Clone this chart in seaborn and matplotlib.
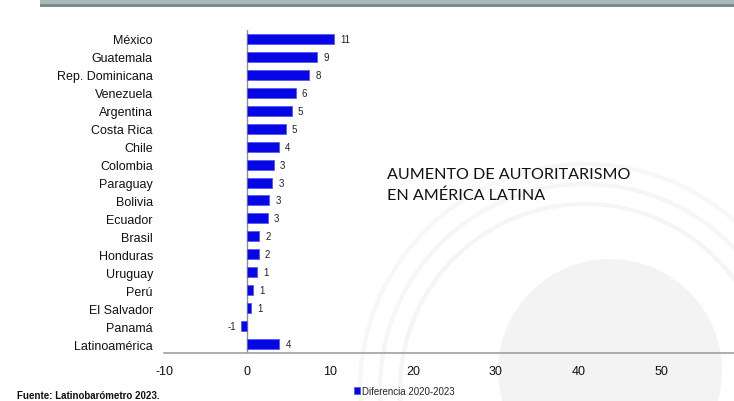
import pandas as pd
import matplotlib.pyplot as plt
import seaborn as sns
from matplotlib.patches import Rectangle, Circle

paises = ['México', 'Guatemala', 'Rep. Dominicana', 'Venezuela', 'Argentina',
          'Costa Rica', 'Chile', 'Colombia', 'Paraguay', 'Bolivia', 'Ecuador',
          'Brasil', 'Honduras', 'Uruguay', 'Perú', 'El Salvador', 'Panamá',
          'Latinoamérica']
diferencia = [10.5, 8.5, 7.5, 5.9, 5.4, 4.7, 3.85, 3.2, 3.05, 2.7, 2.5,
              1.5, 1.45, 1.2, 0.72, 0.5, -0.72, 3.9]
etiquetas = ['11', '9', '8', '6', '5', '5', '4', '3', '3', '3', '3',
             '2', '2', '1', '1', '1', '-1', '4']
x_ticks = [-10, 0, 10, 20, 30, 40, 50]

df = pd.DataFrame({'pais': paises, 'dif': diferencia})

sns.set_style('white')
plt.rcParams['font.family'] = ['Liberation Sans', 'DejaVu Sans']

fig = plt.figure(figsize=(7.34, 4.02), dpi=100)

# faint watermark behind the chart
bg = fig.add_axes([0, 0, 1, 1], zorder=0)
bg.set_xlim(0, 734)
bg.set_ylim(402, 0)
bg.axis('off')
bg.add_patch(Circle((610, 372), 112, color='#f3f3f3', lw=0))
for r, c in [(185, '#f5f5f5'), (205, '#f6f6f6'), (225, '#f7f7f7')]:
    bg.add_patch(Circle((585, 390), r, fill=False, ec=c, lw=3))

ax = fig.add_axes([164 / 734, 1 - 354 / 402, 1 - 164 / 734, (354 - 31) / 402], zorder=1)
ax.patch.set_alpha(0)
sns.barplot(data=df, x='dif', y='pais', orient='h', color='#0606e6',
            width=0.56, edgecolor='#5a5af0', linewidth=0.6, saturation=1,
            label='Diferencia 2020-2023', ax=ax)
if ax.get_legend() is not None:
    ax.get_legend().remove()

for i, (v, t) in enumerate(zip(diferencia, etiquetas)):
    if v >= 0:
        ax.annotate(t, (v, i), xytext=(6, 0), textcoords='offset pixels',
                    ha='left', va='center', fontsize=7, color='#222222')
    else:
        ax.annotate(t, (v, i), xytext=(-5, 0), textcoords='offset pixels',
                    ha='right', va='center', fontsize=7, color='#222222')

ax.set_xlim(-10, 58.7)
ax.set_ylim(17.5, -0.5)
ax.set_xticks(x_ticks)
ax.set_xticklabels([str(t) for t in x_ticks])
ax.set_xlabel('')
ax.set_ylabel('')
ax.tick_params(axis='both', length=0, labelsize=9, colors='#111111')
ax.tick_params(axis='y', pad=8)
ax.tick_params(axis='x', pad=9)
for s in ['top', 'right', 'left']:
    ax.spines[s].set_visible(False)
ax.spines['bottom'].set_color('#a0a0a0')
ax.spines['bottom'].set_linewidth(1.2)
ax.axvline(0, color='#909090', lw=1.0, zorder=0)

ax.text(16.9, 8.12, 'AUMENTO DE AUTORITARISMO\nEN AMÉRICA LATINA',
        family=['Lato', 'DejaVu Sans'], fontsize=11.6, color='#111111',
        ha='left', va='center', linespacing=1.55)

leg = fig.legend(loc='center left', bbox_to_anchor=(354 / 734, 1 - 392 / 402),
                 frameon=False, fontsize=7, handlelength=0.6, handleheight=0.6,
                 handletextpad=0.2, borderaxespad=0, borderpad=0)

fig.text(17 / 734, 1 - 396 / 402, 'Fuente: Latinobarómetro 2023.',
         fontsize=7, fontweight='bold', ha='left', va='center', color='#111111')

# header band at the top
fig.patches.append(Rectangle((40 / 734, 1 - 5 / 402), 1, 5 / 402,
                             transform=fig.transFigure, color='#a5b9b7', lw=0))
fig.patches.append(Rectangle((40 / 734, 1 - 7.5 / 402), 1, 2.5 / 402,
                             transform=fig.transFigure, color='#7b8c8a', lw=0))

fig.savefig('out.png', dpi=100)
